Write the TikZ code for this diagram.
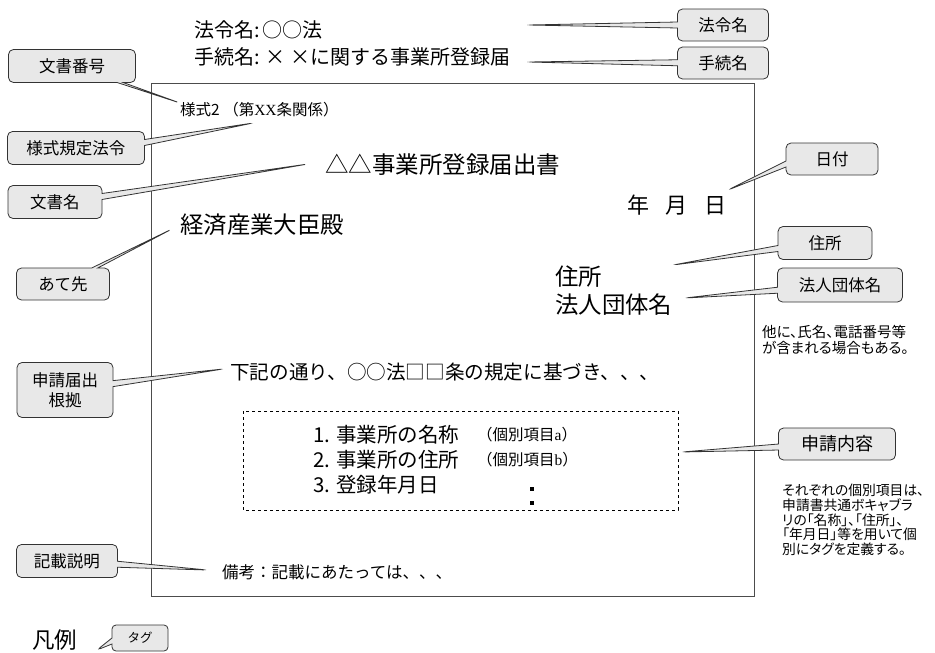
\documentclass[tikz,border=0pt]{standalone}
\usepackage{fontspec}
\setmainfont{Noto Sans CJK JP}
\newfontfamily\jpp[RawFeature=+palt]{Noto Sans CJK JP}
\newfontfamily\serifx{Liberation Serif}
\usetikzlibrary{shapes.callouts}
\newcommand{\fsz}[1]{\fontsize{#1}{#1}\selectfont}
\begin{document}
\begin{tikzpicture}[x=1pt,y=-1pt,
  tag/.style={rectangle callout, draw=black!80, fill=black!9, rounded corners=5pt,
    line width=0.8pt, font=\fsz{16.5}, inner sep=0pt, callout pointer width=6pt, align=center},
  txt/.style={anchor=west, inner sep=0pt},
  note/.style={anchor=north west, inner sep=0pt, align=left},
  docframe/.style={draw=black!70, line width=0.9pt},
  itembox/.style={draw=black, dashed, line width=0.6pt}]
\useasboundingbox (0,0) rectangle (935,653);

% document frame
\draw[docframe] (151,83) rectangle (754,596);
\draw[itembox] (243,411) rectangle (678,510);

% texts
\node[txt, font=\fsz{20}] (hourei) at (194,30) {法令名:\hspace{0.15em}○○法};
\node[txt, font=\fsz{20}] (tetsuzuki) at (194,57) {手続名: × ×に関する事業所登録届};
\node[txt, font=\fsz{15.5}] (yoshiki) at (180,110) {様式2 （第{\serifx XX}条関係）};
\node[txt, font=\fsz{23.5}] (bunsho) at (325,165) {△△事業所登録届出書};
\node[txt, font=\fsz{22}] (date) at (627,205) {年\hspace{0.75em}月\hspace{0.75em}日};
\node[txt, font=\fsz{23.4}] (atesaki) at (180,225) {経済産業大臣殿};
\node[txt, font=\fsz{23.4}] (jusho) at (555,277) {住所};
\node[txt, font=\fsz{23.4}] (hojin) at (555,305) {法人団体名};
\node[note, font=\jpp\fontsize{14.5}{16.5}\selectfont] (note1) at (762,325) {他に、氏名、電話番号等\\が含まれる場合もある。};
\node[txt, font=\fsz{19.6}] (konkyo) at (230,372) {下記の通り、○○法□□条の規定に基づき、、、};
\node[txt, font=\fsz{20.5}] (item1) at (313,435) {1.\hspace{0.3em}事業所の名称};
\node[txt, font=\fsz{20.5}] (item2) at (313,460) {2.\hspace{0.3em}事業所の住所};
\node[txt, font=\fsz{20.5}] (item3) at (313,485) {3.\hspace{0.3em}登録年月日};
\node[txt, font=\fsz{15.5}] (kobetsua) at (477,435) {（個別項目{\serifx a}）};
\node[txt, font=\fsz{15.5}] (kobetsub) at (477,460) {（個別項目{\serifx b}）};
\node[fill=black, minimum size=3.5pt, inner sep=0pt] (dot1) at (532,489) {};
\node[fill=black, minimum size=3.5pt, inner sep=0pt] (dot2) at (532,503) {};
\node[note, font=\jpp\fontsize{13.8}{14.7}\selectfont] (note2) at (782,484) {それぞれの個別項目は、\\申請書共通ボキャブラ\\リの「名称」、「住所」、\\「年月日」等を用いて個\\別にタグを定義する。};
\node[txt, font=\fsz{16.5}] (biko) at (222,572) {備考：記載にあたっては、、、};
\node[txt, font=\fsz{22.5}] (hanrei) at (32,640) {凡例};

% callout tips
\coordinate (t1) at (528,25);
\coordinate (t2) at (528,62);
\coordinate (t3) at (180,103);
\coordinate (t4) at (253,123);
\coordinate (t5) at (308,164);
\coordinate (t6) at (728,190);
\coordinate (t7) at (172,229);
\coordinate (t8) at (673,265);
\coordinate (t9) at (685,298);
\coordinate (t10) at (223,369);
\coordinate (t11) at (682,452);
\coordinate (t12) at (207,570);
\coordinate (t13) at (97,650);

% callouts
\node[tag, minimum width=91pt, minimum height=32pt, callout absolute pointer={(t1)}] (c1) at (723,25) {法令名};
\node[tag, minimum width=91pt, minimum height=32pt, callout absolute pointer={(t2)}] (c2) at (723,63) {手続名};
\node[tag, minimum width=127pt, minimum height=33pt, callout absolute pointer={(t3)}] (c3) at (72,66) {文書番号};
\node[tag, minimum width=137pt, minimum height=33pt, callout absolute pointer={(t4)}] (c4) at (76,148) {様式規定法令};
\node[tag, minimum width=94pt, minimum height=33pt, callout absolute pointer={(t5)}] (c5) at (55,202) {文書名};
\node[tag, minimum width=92pt, minimum height=32pt, callout absolute pointer={(t6)}] (c6) at (832,159) {日付};
\node[tag, minimum width=93pt, minimum height=32pt, callout absolute pointer={(t7)}] (c7) at (63,284) {あて先};
\node[tag, minimum width=94pt, minimum height=33pt, callout absolute pointer={(t8)}] (c8) at (825,243) {住所};
\node[tag, minimum width=125pt, minimum height=34pt, callout absolute pointer={(t9)}] (c9) at (840,285) {法人団体名};
\node[tag, minimum width=96pt, minimum height=55pt, callout absolute pointer={(t10)}, font=\fontsize{16.5}{20}\selectfont] (c10) at (65,390) {申請届出\\根拠};
\node[tag, minimum width=117pt, minimum height=32pt, callout absolute pointer={(t11)}, font=\fsz{18}] (c11) at (837,444) {申請内容};
\node[tag, minimum width=101pt, minimum height=33pt, callout absolute pointer={(t12)}] (c12) at (67,561) {記載説明};
\node[tag, minimum width=56pt, minimum height=26pt, callout absolute pointer={(t13)}, font=\fsz{12.5}, rounded corners=4pt] (c13) at (140,638) {タグ};
\end{tikzpicture}
\end{document}
